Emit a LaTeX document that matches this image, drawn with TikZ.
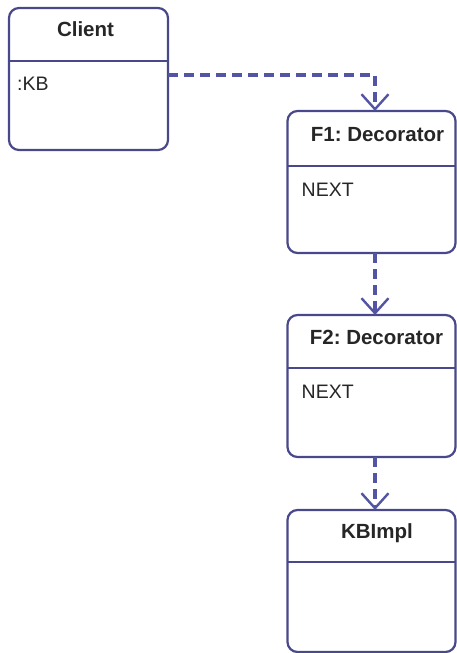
\documentclass[tikz,border=0pt]{standalone}
\usepackage{fontspec}
\setmainfont{Liberation Sans}
\usetikzlibrary{arrows.meta,calc}
\definecolor{boxline}{HTML}{48488A}
\definecolor{depline}{HTML}{5454A4}
\definecolor{txt}{HTML}{262626}
\tikzset{
  umlbox/.style={draw=boxline, line width=2.2pt, rounded corners=10pt, fill=white,
    minimum height=142pt, inner sep=0pt, outer sep=0pt},
  divider/.style={draw=boxline, line width=2.8pt},
  title/.style={font=\frenchspacing\bfseries\fontsize{20.5}{24}\selectfont, text=txt, anchor=base, inner sep=0pt},
  attr/.style={font=\fontsize{19.5}{22}\selectfont, text=txt, anchor=base west, inner sep=0pt},
  dep/.style={draw=depline, line width=3.2pt, dash pattern=on 10pt off 6pt,
    -{Straight Barb[length=15pt,width=27pt,line width=2.4pt]}},
}
\begin{document}
\begin{tikzpicture}[x=1pt,y=-1pt]
\useasboundingbox (0,0) rectangle (457,653);
% boxes
\node[umlbox, minimum width=159pt] (client) at (88.5,79) {};
\node[umlbox, minimum width=168pt] (f1) at (371.5,182) {};
\node[umlbox, minimum width=168pt] (f2) at (371.5,386) {};
\node[umlbox, minimum width=168pt] (kb) at (371.5,581) {};
% dividers
\draw[divider] ([yshift=-53pt]client.north west) -- ([yshift=-53pt]client.north east);
\draw[divider] ([yshift=-55pt]f1.north west) -- ([yshift=-55pt]f1.north east);
\draw[divider] ([yshift=-53pt]f2.north west) -- ([yshift=-53pt]f2.north east);
\draw[divider] ([yshift=-52pt]kb.north west) -- ([yshift=-52pt]kb.north east);
% titles
\node[title] (tclient) at ([xshift=-3pt,yshift=-28pt]client.north) {Client};
\node[title] (tf1) at ([xshift=6pt,yshift=-30.5pt]f1.north) {F1: Decorator};
\node[title] (tf2) at ([xshift=5pt,yshift=-29pt]f2.north) {F2: Decorator};
\node[title] (tkb) at ([xshift=5.5pt,yshift=-28pt]kb.north) {KBImpl};
% attributes
\node[attr] (aclient) at ([xshift=8pt,yshift=-82pt]client.north west) {:KB};
\node[attr] (af1) at ([xshift=14pt,yshift=-85pt]f1.north west) {NEXT};
\node[attr] (af2) at ([xshift=14pt,yshift=-83pt]f2.north west) {NEXT};
% dependencies
\draw[dep] ([yshift=4pt]client.east) -| ([xshift=3.5pt]f1.north);
\draw[dep] ([xshift=3.5pt]f1.south) -- ([xshift=3.5pt]f2.north);
\draw[dep] ([xshift=3.5pt]f2.south) -- ([xshift=3.5pt]kb.north);
\end{tikzpicture}
\end{document}
